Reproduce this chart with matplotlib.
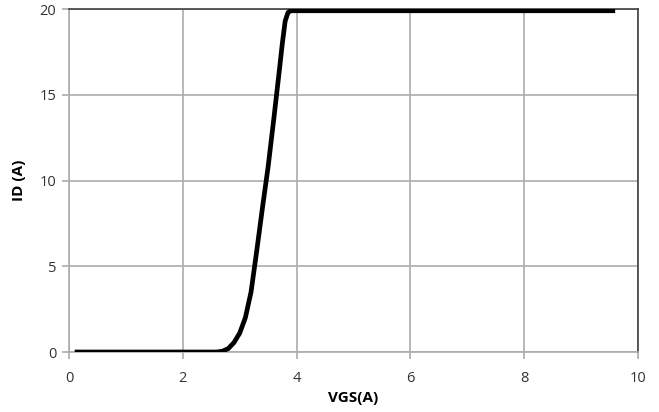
import matplotlib
matplotlib.use('Agg')
import matplotlib.pyplot as plt

# VGS vs ID curve
vgs = [0.1, 1.0, 2.0, 2.6, 2.7, 2.8, 2.9, 3.0, 3.1, 3.2, 3.3, 3.4, 3.5, 3.6,
       3.7, 3.75, 3.8, 3.85, 3.9, 4.0, 5.0, 6.0, 7.0, 8.0, 9.0, 9.6]
id_a = [0, 0, 0, 0, 0.05, 0.2, 0.55, 1.1, 2.0, 3.5, 5.9, 8.4, 10.8, 13.6,
        16.5, 18.0, 19.3, 19.8, 19.9, 19.9, 19.9, 19.9, 19.9, 19.9, 19.9, 19.9]

x_ticks = [0, 2, 4, 6, 8, 10]
y_ticks = [0, 5, 10, 15, 20]

plt.rcParams['font.family'] = ['Open Sans', 'DejaVu Sans']

fig = plt.figure(figsize=(6.59, 4.12), dpi=100)
ax = fig.add_axes([0.1047, 0.1456, 0.8633, 0.8325])

ax.plot(vgs, id_a, color='black', lw=3.4, solid_capstyle='butt',
        solid_joinstyle='round', zorder=3)

ax.set_xlim(0, 10)
ax.set_ylim(0, 20)
ax.set_xticks(x_ticks)
ax.set_yticks(y_ticks)
ax.grid(True, color='#acacac', lw=1.2)
ax.set_axisbelow(True)

for s in ['left', 'bottom']:
    ax.spines[s].set_color('#acacac')
    ax.spines[s].set_linewidth(1.2)
for s in ['top', 'right']:
    ax.spines[s].set_color('#404040')
    ax.spines[s].set_linewidth(1.2)

ax.tick_params(axis='both', direction='out', length=5, width=1.2,
               color='#acacac', labelsize=10.5, labelcolor='#333333', pad=4)
ax.tick_params(axis='x', pad=9)

ax.set_xlabel('VGS(A)', fontsize=11, fontweight='bold', labelpad=3)
ax.set_ylabel('ID (A)', fontsize=11, fontweight='bold', labelpad=10)

fig.savefig('out.png', dpi=100)
